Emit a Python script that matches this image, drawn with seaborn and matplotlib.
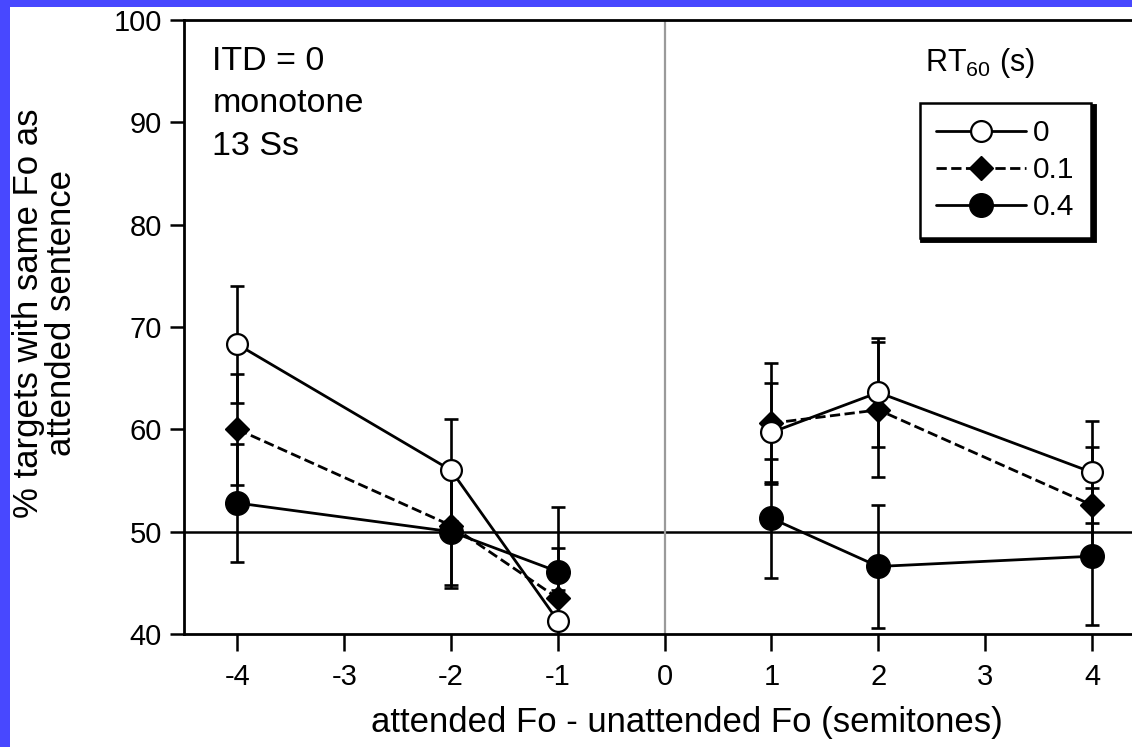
import numpy as np
import pandas as pd
import matplotlib
matplotlib.use("Agg")
import matplotlib.pyplot as plt
from matplotlib.lines import Line2D
from matplotlib.patches import Rectangle
import seaborn as sns

# ---- data ----
semitones = [-4, -2, -1, 1, 2, 4]
rt0_mean  = [68.3, 56.0, 41.3, 59.7, 63.6, 55.8]
rt0_err   = [5.7, 5.0, 3.0, 4.8, 5.3, 5.0]
rt01_mean = [60.0, 50.6, 43.5, 60.6, 61.9, 52.6]
rt01_err  = [5.4, 5.8, 4.9, 5.9, 6.6, 5.7]
rt04_mean = [52.8, 50.0, 46.1, 51.3, 46.6, 47.6]
rt04_err  = [5.8, 5.5, 6.3, 5.8, 6.0, 6.7]
series_labels = ["0", "0.1", "0.4"]
x_ticks = [-4, -3, -2, -1, 0, 1, 2, 3, 4]
y_ticks = [40, 50, 60, 70, 80, 90, 100]

sns.set_theme(style="white")
plt.rcParams["font.family"] = ["Liberation Sans", "DejaVu Sans"]
plt.rcParams["mathtext.fontset"] = "custom"
plt.rcParams["mathtext.rm"] = "Liberation Sans"
plt.rcParams["mathtext.it"] = "Liberation Sans:italic"

frames = []
for lab, m, e in [("0", rt0_mean, rt0_err), ("0.1", rt01_mean, rt01_err), ("0.4", rt04_mean, rt04_err)]:
    frames.append(pd.DataFrame({"x": semitones, "y": m, "err": e, "rt": lab,
                                "side": ["neg" if v < 0 else "pos" for v in semitones]}))
df = pd.concat(frames, ignore_index=True)

W, H = 1132, 747
fig = plt.figure(figsize=(W / 100, H / 100), dpi=100, facecolor="#4848ff")
fig.patches.append(Rectangle((10 / W, 0), 1 - 10 / W, (H - 7) / H, transform=fig.transFigure,
                             facecolor="white", edgecolor="none", zorder=-10))
ax = fig.add_axes([184 / W, (H - 634) / H, (W - 184) / W, (634 - 20) / H])
ax.set_facecolor("white")

styles = {
    "0":   dict(marker="o", ms=15, mfc="white", mec="black", mew=1.6, ls="-"),
    "0.1": dict(marker="D", ms=12.5, mfc="black", mec="black", mew=1.0, ls="--"),
    "0.4": dict(marker="o", ms=17, mfc="black", mec="black", mew=1.0, ls="-"),
}
order_z = {"0": 4, "0.1": 3, "0.4": 5}

ax.axhline(50, color="black", lw=1.8, zorder=1)
ax.axvline(0, color="#9a9a9a", lw=1.6, zorder=1)

for lab in series_labels:
    sub = df[df.rt == lab]
    ax.errorbar(sub.x, sub.y, yerr=sub.err, fmt="none", ecolor="black", elinewidth=1.9,
                capsize=5, capthick=1.9, zorder=2)
    st = styles[lab]
    sns.lineplot(data=sub, x="x", y="y", units="side", estimator=None, ax=ax,
                 color="black", lw=2.0, linestyle=st["ls"], marker=st["marker"],
                 markersize=st["ms"], markerfacecolor=st["mfc"], markeredgecolor=st["mec"],
                 markeredgewidth=st["mew"], zorder=order_z[lab], legend=False)

ax.set_xlim(-4.5, 4.375)
ax.set_ylim(40, 100)
ax.set_xticks(x_ticks)
ax.set_xticklabels([str(t) for t in x_ticks])
ax.set_yticks(y_ticks)
ax.tick_params(axis="both", which="major", direction="out", width=1.8,
               labelsize=21, color="black", labelcolor="black", left=True, bottom=True)
ax.tick_params(axis="x", length=12, pad=9)
ax.tick_params(axis="y", length=10, pad=6)
for s in ["left", "top", "bottom"]:
    ax.spines[s].set_color("black")
    ax.spines[s].set_linewidth(2.0)
ax.spines["right"].set_visible(False)

ax.set_xlabel("attended Fo - unattended Fo (semitones)", fontsize=25, color="black")
ax.xaxis.set_label_coords(0.53, -0.118)
ax.set_ylabel("% targets with same Fo as\nattended sentence", fontsize=25, color="black",
              linespacing=1.0)
ax.yaxis.set_label_coords(-0.112, 0.523)

ax.text(0.03, 0.958, "ITD = 0", transform=ax.transAxes, fontsize=24.5, va="top", color="black")
ax.text(0.03, 0.89, "monotone", transform=ax.transAxes, fontsize=24.5, va="top", color="black")
ax.text(0.03, 0.82, "13 Ss", transform=ax.transAxes, fontsize=24.5, va="top", color="black")
ax.text(0.782, 0.958, r"RT$_{60}$ (s)", transform=ax.transAxes, fontsize=22, va="top", color="black")

handles = []
for lab in series_labels:
    st = styles[lab]
    handles.append(Line2D([], [], color="black", lw=2.0, ls=st["ls"], marker=st["marker"],
                          ms=st["ms"], mfc=st["mfc"], mec=st["mec"], mew=st["mew"]))
leg = ax.legend(handles, series_labels, loc="upper left", bbox_to_anchor=(0.776, 0.865),
                borderaxespad=0, frameon=True, fontsize=21.5, handlelength=3.0,
                handletextpad=0.25, labelspacing=0.3, borderpad=0.55, fancybox=False,
                shadow={"color": "black", "alpha": 1.0, "linewidth": 3.5, "edgecolor": "black"})
leg.get_frame().set_edgecolor("black")
leg.get_frame().set_linewidth(1.8)
for t in leg.get_texts():
    t.set_color("black")

fig.savefig("out.png", dpi=100, facecolor=fig.get_facecolor())
